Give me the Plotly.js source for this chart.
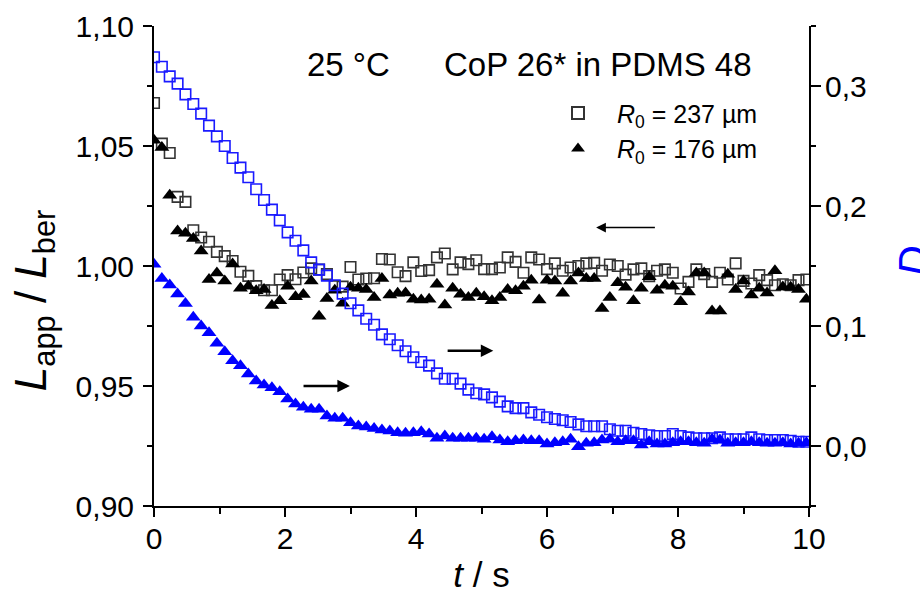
<!DOCTYPE html>
<html>
<head>
<meta charset="utf-8">
<script src="https://cdn.plot.ly/plotly-3.0.1.min.js"></script>
<style>
  html, body { margin: 0; padding: 0; background: #ffffff; }
  #chart { width: 920px; height: 599px; }
</style>
</head>
<body>
<div id="chart"></div>
<script>
// time axis (s)
const tSec = [0, 0.12, 0.24, 0.36, 0.48, 0.6, 0.72, 0.84, 0.96, 1.08, 1.2, 1.32, 1.44, 1.56, 1.68, 1.8, 1.92, 2.04, 2.16, 2.28, 2.4, 2.52, 2.64, 2.76, 2.88, 3, 3.12, 3.24, 3.36, 3.48, 3.6, 3.72, 3.84, 3.96, 4.08, 4.2, 4.32, 4.44, 4.56, 4.68, 4.8, 4.92, 5.04, 5.16, 5.28, 5.4, 5.52, 5.64, 5.76, 5.88, 6, 6.12, 6.24, 6.36, 6.48, 6.6, 6.72, 6.84, 6.96, 7.08, 7.2, 7.32, 7.44, 7.56, 7.68, 7.8, 7.92, 8.04, 8.16, 8.28, 8.4, 8.52, 8.64, 8.76, 8.88, 9, 9.12, 9.24, 9.36, 9.48, 9.6, 9.72, 9.84, 9.96];

// L_app / L_ber, R0 = 237 um (open squares, left axis)
const lRatio237 = [1.0679, 1.0510, 1.0471, 1.0288, 1.0267, 1.0149, 1.0119, 1.0101, 1.0059, 1.0041, 1.0021, 0.9976, 0.9959, 0.9916, 0.9899, 0.9899, 0.9944, 0.9962, 0.9945, 0.9973, 0.9990, 0.9985, 0.9966, 0.9916, 0.9914, 0.9996, 0.9944, 0.9948, 0.9949, 1.0029, 1.0027, 0.9974, 0.9958, 1.0015, 0.9979, 0.9983, 1.0036, 1.0052, 0.9986, 1.0015, 1.0008, 1.0024, 0.9987, 0.9987, 0.9994, 1.0036, 1.0017, 0.9972, 1.0036, 1.0027, 0.9987, 1.0011, 0.9980, 0.9994, 1.0000, 1.0011, 1.0013, 0.9980, 1.0006, 1.0000, 0.9964, 0.9986, 0.9990, 0.9958, 0.9980, 0.9986, 0.9972, 0.9906, 0.9934, 0.9986, 0.9966, 0.9934, 0.9972, 0.9944, 1.0011, 0.9938, 0.9927, 0.9962, 0.9941, 0.9920, 0.9924, 0.9920, 0.9941, 0.9944];

// L_app / L_ber, R0 = 176 um (filled triangles, left axis)
const lRatio176 = [1.0524, 1.0494, 1.0295, 1.0146, 1.0136, 1.0115, 1.0063, 0.9944, 0.9971, 0.9938, 1.0008, 0.9907, 0.9916, 0.9897, 0.9902, 0.9835, 0.9855, 0.9916, 0.9872, 0.9881, 0.9938, 0.9791, 0.9865, 0.9899, 0.9845, 0.9911, 0.9907, 0.9902, 0.9869, 0.9948, 0.9879, 0.9886, 0.9888, 0.9861, 0.9858, 0.9861, 0.9924, 0.9837, 0.9907, 0.9882, 0.9869, 0.9886, 0.9872, 0.9855, 0.9869, 0.9902, 0.9897, 0.9916, 0.9941, 0.9858, 0.9941, 0.9938, 0.9886, 0.9938, 0.9971, 0.9948, 0.9948, 0.9823, 0.9869, 0.9930, 0.9911, 0.9855, 0.9907, 0.9955, 0.9899, 0.9920, 0.9916, 0.9851, 0.9892, 0.9971, 0.9971, 0.9813, 0.9813, 0.9966, 0.9902, 0.9938, 0.9879, 0.9907, 0.9888, 0.9980, 0.9913, 0.9911, 0.9902, 0.9861];

// D, R0 = 237 um (blue open squares, right axis)
const d237 = [0.324, 0.316, 0.308, 0.302, 0.293, 0.285, 0.277, 0.267, 0.258, 0.250, 0.240, 0.232, 0.224, 0.214, 0.205, 0.197, 0.188, 0.178, 0.171, 0.163, 0.153, 0.147, 0.142, 0.134, 0.127, 0.119, 0.113, 0.106, 0.101, 0.093, 0.089, 0.084, 0.079, 0.074, 0.070, 0.067, 0.0605, 0.056, 0.056, 0.052, 0.047, 0.044, 0.043, 0.0405, 0.037, 0.033, 0.0316, 0.0316, 0.028, 0.026, 0.024, 0.0225, 0.0214, 0.020, 0.018, 0.0164, 0.0164, 0.0164, 0.014, 0.0127, 0.0127, 0.011, 0.010, 0.009, 0.0083, 0.0083, 0.010, 0.0083, 0.0072, 0.0064, 0.0064, 0.0064, 0.0072, 0.0056, 0.0056, 0.0056, 0.0072, 0.0056, 0.005, 0.005, 0.005, 0.0044, 0.0036, 0.0036];

// D, R0 = 176 um (blue filled triangles, right axis)
const d176 = [0.1515, 0.1396, 0.1341, 0.1266, 0.1188, 0.1072, 0.100, 0.0944, 0.0856, 0.0785, 0.071, 0.0669, 0.060, 0.0541, 0.0508, 0.0485, 0.0452, 0.0391, 0.035, 0.0322, 0.0306, 0.0306, 0.025, 0.0231, 0.0231, 0.0194, 0.0166, 0.0158, 0.0146, 0.0133, 0.0125, 0.0111, 0.0106, 0.0111, 0.0119, 0.010, 0.0064, 0.0083, 0.0064, 0.0064, 0.0064, 0.0064, 0.0056, 0.0078, 0.005, 0.0036, 0.0044, 0.005, 0.0044, 0.0044, 0.0017, 0.0028, 0.0036, 0.0056, -0.0006, 0.0022, 0.0028, 0.005, 0.0056, 0.0036, 0.0044, 0.0044, 0.0008, 0.0036, 0.0017, 0.0017, 0.0028, 0.0036, 0.0036, 0.0028, 0.0022, 0.0056, 0.005, 0.0022, 0.0028, 0.0028, 0.0036, 0.0028, 0.0022, 0.0022, 0.0028, 0.0017, 0.0022, 0.0028];

const legendLabels = ['<i>R</i><sub>0</sub> = 237 µm', '<i>R</i><sub>0</sub> = 176 µm'];
const noteTemp = '25 °C';
const noteSample = 'CoP 26* in PDMS 48';
const yTitleLeft = '<i>L</i><sub>app</sub>\u00a0/\u00a0<i>L</i><sub>ber</sub>';
const yTitleRight = '<i>D</i>';

const FONT = 'Liberation Sans, Arial, Helvetica, sans-serif';

const traces = [
  {
    x: tSec, y: lRatio237, type: 'scatter', mode: 'markers', name: legendLabels[0],
    xaxis: 'x', yaxis: 'y',
    marker: { symbol: 'square-open', size: 10.5, color: '#333333', line: { width: 1.6, color: '#333333' } }
  },
  {
    x: tSec, y: lRatio176, type: 'scatter', mode: 'markers', name: legendLabels[1],
    xaxis: 'x', yaxis: 'y',
    marker: { symbol: 'triangle-up', size: 13, color: '#000000', line: { width: 0 } }
  },
  {
    x: tSec, y: d237, type: 'scatter', mode: 'markers', showlegend: false,
    xaxis: 'x', yaxis: 'y2',
    marker: { symbol: 'square-open', size: 10.5, color: '#1a1aff', line: { width: 1.6, color: '#1a1aff' } }
  },
  {
    x: tSec, y: d176, type: 'scatter', mode: 'markers', showlegend: false,
    xaxis: 'x', yaxis: 'y2',
    marker: { symbol: 'triangle-up', size: 13, color: '#0000ff', line: { width: 0 } }
  }
];

const axisCommon = {
  showline: true, linecolor: '#000000', linewidth: 2,
  showgrid: false, zeroline: false,
  tickcolor: '#000000', tickwidth: 2,
  tickfont: { family: FONT, size: 30, color: '#000000' }
};

const layout = {
  width: 920, height: 599,
  margin: { l: 154, r: 111, t: 26, b: 93, pad: 0 },
  paper_bgcolor: '#ffffff', plot_bgcolor: '#ffffff',
  separators: ',.',
  font: { family: FONT, color: '#000000' },
  showlegend: true,
  legend: {
    x: 0.5878, y: 0.866, xanchor: 'left', yanchor: 'top',
    bgcolor: 'rgba(0,0,0,0)', borderwidth: 0,
    font: { family: FONT, size: 25, color: '#000000' },
    itemsizing: 'constant', itemwidth: 68, tracegroupgap: 0
  },
  xaxis: Object.assign({}, axisCommon, {
    range: [0, 10], tick0: 0, dtick: 2, ticks: 'outside', ticklen: 9, ticklabelstandoff: -4,
    minor: { dtick: 1, ticks: 'outside', ticklen: 6, tickwidth: 2, tickcolor: '#000000' },
    title: { text: '<i>t</i> / s', font: { family: FONT, size: 35, color: '#000000' }, standoff: 8 }
  }),
  xaxis2: Object.assign({}, axisCommon, {
    range: [0, 10], overlaying: 'x', anchor: 'y', side: 'top',
    tick0: 0, dtick: 2, ticks: 'inside', ticklen: 10, showticklabels: false,
    minor: { dtick: 1, ticks: 'inside', ticklen: 6, tickwidth: 2, tickcolor: '#000000' }
  }),
  yaxis: Object.assign({}, axisCommon, {
    range: [0.90, 1.10], tick0: 0.9, dtick: 0.05, tickformat: '.2f', ticks: 'outside', ticklen: 9, ticklabelstandoff: 3,
    minor: { dtick: 0.025, ticks: 'outside', ticklen: 5, tickwidth: 2, tickcolor: '#000000' }
  }),
  yaxis2: Object.assign({}, axisCommon, {
    range: [-0.05, 0.35], overlaying: 'y', side: 'right', anchor: 'x',
    tick0: 0, dtick: 0.1, tickformat: '.1f', ticks: 'outside', ticklen: 10, ticklabelstandoff: -2,
    minor: { dtick: 0.05, ticks: 'outside', ticklen: 5, tickwidth: 2, tickcolor: '#000000' }
  }),
  annotations: [
    { xref: 'paper', yref: 'paper', x: -0.183, y: 0.429, xanchor: 'center', yanchor: 'middle',
      textangle: -90, showarrow: false, text: yTitleLeft,
      font: { family: FONT, size: 44, color: '#000000' } },
    { xref: 'paper', yref: 'paper', x: 1.1588, y: 0.5104, xanchor: 'center', yanchor: 'middle',
      textangle: -90, showarrow: false, text: yTitleRight,
      font: { family: FONT, size: 42, color: '#0000ff' } },
    { xref: 'x', yref: 'y', x: 2.30, y: 1.084, xanchor: 'left', yanchor: 'middle', showarrow: false,
      text: noteTemp, font: { family: FONT, size: 33, color: '#000000' } },
    { xref: 'x', yref: 'y', x: 4.40, y: 1.084, xanchor: 'left', yanchor: 'middle', showarrow: false,
      text: noteSample, font: { family: FONT, size: 33, color: '#000000' } },
    { xref: 'x', yref: 'y', x: 6.75, y: 1.016, axref: 'x', ayref: 'y', ax: 7.67, ay: 1.016,
      text: '', showarrow: true, arrowhead: 2, arrowsize: 1.3, arrowwidth: 1.5, arrowcolor: '#000000' },
    { xref: 'x', yref: 'y', x: 5.18, y: 0.9647, axref: 'x', ayref: 'y', ax: 4.46, ay: 0.9647,
      text: '', showarrow: true, arrowhead: 2, arrowsize: 1, arrowwidth: 2.5, arrowcolor: '#000000' },
    { xref: 'x', yref: 'y', x: 2.99, y: 0.950, axref: 'x', ayref: 'y', ax: 2.26, ay: 0.950,
      text: '', showarrow: true, arrowhead: 2, arrowsize: 1, arrowwidth: 2.5, arrowcolor: '#000000' }
  ]
};

Plotly.newPlot('chart', traces, layout, { staticPlot: true, displayModeBar: false });
</script>
</body>
</html>
